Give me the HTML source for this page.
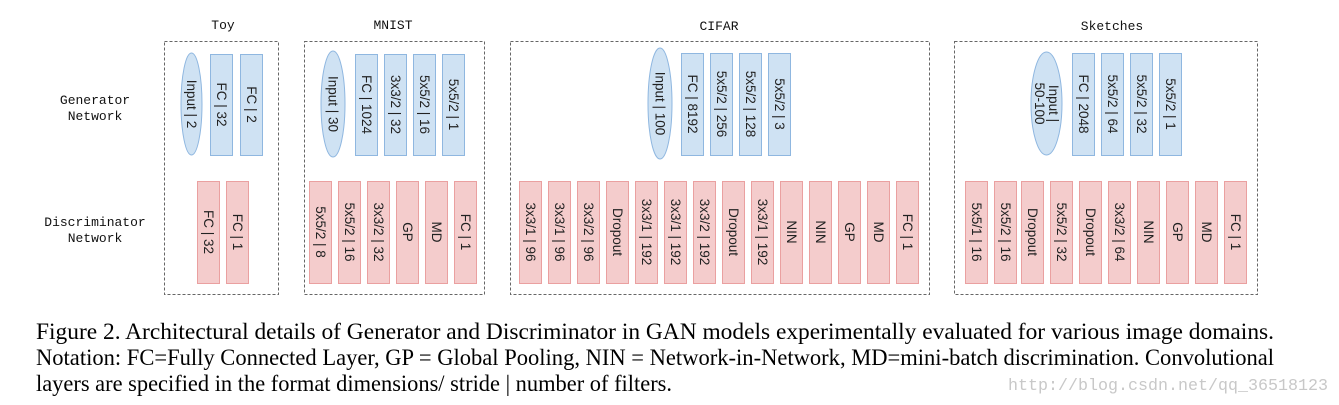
<!DOCTYPE html>
<html><head><meta charset="utf-8"><style>html,body{margin:0;padding:0;background:#fff}svg{display:block}</style></head><body>
<svg width="1339" height="405" viewBox="0 0 1339 405" xmlns="http://www.w3.org/2000/svg">
<style>
.t{font-family:"Liberation Mono","DejaVu Sans Mono",monospace;font-size:13px;fill:#111;text-anchor:middle}
.g{fill:#cfe2f3;stroke:#8fb7e0;stroke-width:1}
.d{fill:#f4cccc;stroke:#eaa0a0;stroke-width:1}
.r{font-family:"Liberation Sans",sans-serif;font-size:13.5px;fill:#222;text-anchor:middle;dominant-baseline:central}
.box{fill:none;stroke:#666;stroke-width:1;stroke-dasharray:3,2}
.c{font-family:"Liberation Serif",serif;font-size:23px;fill:#000}
</style>
<text class="t" x="95" y="104">Generator</text><text class="t" x="95" y="120">Network</text>
<text class="t" x="95" y="226">Discriminator</text><text class="t" x="95" y="242">Network</text>
<text class="t" x="223" y="29">Toy</text>
<text class="t" x="393" y="29">MNIST</text>
<text class="t" x="719" y="30">CIFAR</text>
<text class="t" x="1112" y="30">Sketches</text>
<rect class="box" x="164.5" y="41.5" width="114" height="253"/>
<rect class="box" x="304.5" y="41.5" width="180" height="253"/>
<rect class="box" x="510.5" y="41.5" width="419" height="253"/>
<rect class="box" x="954.5" y="41.5" width="303" height="253"/>
<g id="all"></g>
<text class="c" x="36" y="339" textLength="1238" lengthAdjust="spacingAndGlyphs">Figure 2. Architectural details of Generator and Discriminator in GAN models experimentally evaluated for various image domains.</text>
<text class="c" x="36" y="365" textLength="1238" lengthAdjust="spacingAndGlyphs">Notation: FC=Fully Connected Layer, GP = Global Pooling, NIN = Network-in-Network, MD=mini-batch discrimination. Convolutional</text>
<text class="c" x="36" y="391" textLength="636" lengthAdjust="spacingAndGlyphs">layers are specified in the format dimensions/ stride  |  number of filters.</text>
<text x="1008" y="390" textLength="320" lengthAdjust="spacingAndGlyphs" style="font-family:'Liberation Mono',monospace;font-size:17px;fill:#c8c8c8">http://blog.csdn.net/qq_36518123</text>
</svg>
<script>
const NS="http://www.w3.org/2000/svg",g=document.getElementById('all');
function el(t,a,txt){const e=document.createElementNS(NS,t);for(const k in a)e.setAttribute(k,a[k]);if(txt!==undefined)e.textContent=txt;g.appendChild(e);return e;}
function rt(cx,cy,lines){const n=lines.length;lines.forEach((s,i)=>{const off=(i-(n-1)/2)*14;el('text',{class:'r',transform:`translate(${cx - off},${cy}) rotate(90)`},s);});}
function ell(x1,x2,y1,y2,lines){el('ellipse',{class:'g',cx:(x1+x2)/2,cy:(y1+y2)/2,rx:(x2-x1)/2,ry:(y2-y1)/2});rt((x1+x2)/2,(y1+y2)/2,lines);}
function rects(cls,xs,y1,y2,labels){xs.forEach((x,i)=>{el('rect',{class:cls,x:x+.5,y:y1+.5,width:22,height:y2-y1});rt(x+11.5,(y1+y2)/2,[labels[i]]);});}
ell(181,202,53,155,["Input | 2"]);
rects('g',[210,240],54,155,["FC | 32","FC | 2"]);
rects('d',[197,226],181,283,["FC | 32","FC | 1"]);
ell(321,345,51,157,["Input | 30"]);
rects('g',[355,384,413,442],54,155,["FC | 1024","3x3/2 | 32","5x5/2 | 16","5x5/2 | 1"]);
rects('d',[309,338,367,396,425,454],181,283,["5x5/2 | 8","5x5/2 | 16","3x3/2 | 32","GP","MD","FC | 1"]);
ell(648,672,48,159,["Input | 100"]);
rects('g',[681,710,739,768],53,155,["FC | 8192","5x5/2 | 256","5x5/2 | 128","5x5/2 | 3"]);
rects('d',[519,548,577,606,635,664,693,722,751,780,809,838,867,896],181,283,["3x3/1 | 96","3x3/1 | 96","3x3/2 | 96","Dropout","3x3/1 | 192","3x3/1 | 192","3x3/2 | 192","Dropout","3x3/1 | 192","NIN","NIN","GP","MD","FC | 1"]);
ell(1031,1062,52,155,["Input |","50-100"]);
rects('g',[1072,1101,1130,1159],53,155,["FC | 2048","5x5/2 | 64","5x5/2 | 32","5x5/2 | 1"]);
rects('d',[965,994,1021,1050,1079,1108,1137,1166,1195,1224],181,283,["5x5/1 | 16","5x5/2 | 16","Dropout","5x5/2 | 32","Dropout","3x3/2 | 64","NIN","GP","MD","FC | 1"]);
</script>
</body></html>
